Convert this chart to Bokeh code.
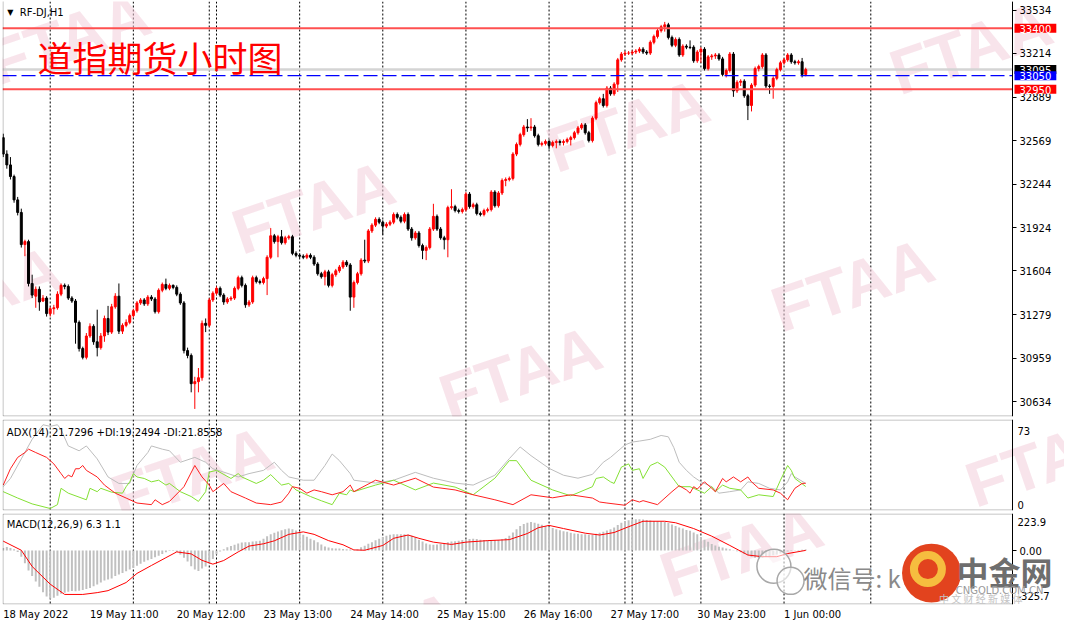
from bokeh.plotting import figure
from bokeh.layouts import column
from bokeh.models import (Range1d, FixedTicker, Span, Label, ColumnDataSource,
                          LinearAxis, BoxAnnotation)
from bokeh.embed import file_html
from bokeh.resources import INLINE

# ---------------- data ----------------
symbol = "RF-DJ,H1"
title_cn = "道指期货小时图"

opens = [
32591, 32469, 32389, 32303, 32130, 32037, 31799, 31821, 31511, 31417,
31468, 31381, 31403, 31288, 31324, 31331, 31432, 31497, 31489, 31403,
31381, 31223, 31029, 30964, 31122, 31194, 31079, 31036, 31122, 31252,
31151, 31338, 31417, 31158, 31201, 31223, 31273, 31309, 31367, 31389,
31360, 31410, 31396, 31302, 31461, 31504, 31475, 31497, 31482, 31432,
31367, 31014, 30978, 30769, 30784, 30813, 31216, 31201, 31389, 31439,
31475, 31425, 31374, 31396, 31403, 31475, 31554, 31497, 31353, 31374,
31554, 31525, 31518, 31547, 31705, 31864, 31821, 31857, 31813, 31849,
31857, 31734, 31720, 31713, 31705, 31720, 31705, 31655, 31583, 31561,
31597, 31497, 31576, 31605, 31633, 31669, 31648, 31410, 31518, 31583,
31684, 31677, 31900, 31943, 31986, 31965, 31936, 31950, 31965, 32022,
32001, 31972, 32022, 31914, 31849, 31885, 31792, 31756, 31777, 31914,
32008, 31914, 31849, 31835, 32073, 32080, 32051, 32044, 32058, 32173,
32080, 32094, 32029, 32022, 32051, 32058, 32188, 32087, 32181, 32274,
32281, 32289, 32469, 32541, 32613, 32670, 32663, 32670, 32605, 32541,
32548, 32562, 32533, 32555, 32562, 32555, 32562, 32577, 32591, 32627,
32663, 32685, 32627, 32569, 32735, 32850, 32879, 32829, 32958, 32915,
32987, 33167, 33210, 33217, 33217, 33225, 33232, 33246, 33225, 33217,
33297, 33340, 33383, 33412, 33426, 33333, 33275, 33318, 33203, 33268,
33261, 33261, 33160, 33225, 33246, 33102, 33189, 33196, 33203, 33174,
33059, 33088, 33210, 32937, 33001, 33009, 32901, 32829, 32980, 33102,
33117, 33203, 32973, 32970, 33030, 33095, 33145, 33167, 33203, 33153,
33145, 33153, 33059]

closes = [
32469, 32389, 32303, 32130, 32037, 31799, 31821, 31511, 31425, 31468,
31374, 31403, 31288, 31324, 31331, 31432, 31497, 31489, 31403, 31381,
31223, 31029, 30964, 31122, 31194, 31079, 31036, 31122, 31252, 31151,
31338, 31417, 31158, 31201, 31223, 31273, 31309, 31367, 31389, 31360,
31410, 31396, 31302, 31461, 31504, 31475, 31497, 31482, 31432, 31367,
31014, 30978, 30769, 30784, 30813, 31216, 31201, 31389, 31439, 31475,
31425, 31374, 31396, 31403, 31475, 31554, 31497, 31353, 31374, 31554,
31525, 31518, 31547, 31705, 31864, 31821, 31857, 31813, 31849, 31857,
31734, 31720, 31713, 31705, 31720, 31705, 31655, 31583, 31561, 31597,
31497, 31576, 31605, 31633, 31669, 31648, 31410, 31518, 31583, 31684,
31677, 31900, 31943, 31986, 31965, 31936, 31950, 31965, 32022, 32001,
31972, 32022, 31914, 31849, 31885, 31792, 31756, 31777, 31914, 32008,
31914, 31849, 31835, 32073, 32080, 32051, 32044, 32058, 32173, 32080,
32094, 32029, 32022, 32051, 32058, 32188, 32087, 32181, 32274, 32281,
32289, 32469, 32541, 32613, 32670, 32663, 32670, 32605, 32541, 32548,
32562, 32533, 32555, 32562, 32555, 32562, 32577, 32591, 32627, 32663,
32685, 32627, 32569, 32735, 32850, 32879, 32829, 32958, 32915, 32987,
33167, 33210, 33217, 33217, 33225, 33232, 33246, 33225, 33217, 33297,
33340, 33383, 33412, 33426, 33333, 33275, 33318, 33203, 33268, 33261,
33258, 33160, 33225, 33246, 33102, 33189, 33196, 33203, 33174, 33059,
33088, 33210, 32937, 33001, 33009, 32901, 32829, 32980, 33102, 33117,
33203, 32973, 32970, 33030, 33095, 33145, 33167, 33203, 33153, 33145,
33153, 33059, 33095]

highs = [
32620, 32497, 32447, 32317, 32152, 32065, 31835, 31835, 31576, 31489,
31489, 31425, 31417, 31338, 31353, 31453, 31511, 31511, 31504, 31417,
31396, 31237, 31043, 31144, 31216, 31209, 31317, 31144, 31273, 31345,
31360, 31439, 31511, 31216, 31245, 31288, 31324, 31381, 31403, 31403,
31425, 31425, 31410, 31475, 31518, 31547, 31511, 31504, 31497, 31446,
31381, 31036, 30993, 30820, 30885, 31237, 31252, 31403, 31453, 31489,
31489, 31439, 31410, 31417, 31489, 31569, 31569, 31511, 31389, 31569,
31569, 31540, 31561, 31720, 31921, 31878, 31871, 31907, 31864, 31871,
31871, 31749, 31734, 31727, 31734, 31734, 31720, 31669, 31597, 31612,
31612, 31590, 31619, 31648, 31684, 31684, 31662, 31533, 31597, 31698,
31835, 31914, 31957, 32001, 32001, 31979, 31965, 31979, 32037, 32037,
32015, 32037, 32037, 31929, 31900, 31900, 31806, 31792, 31929, 32101,
32022, 31929, 31864, 32087, 32209, 32094, 32065, 32073, 32188, 32188,
32109, 32109, 32044, 32065, 32073, 32202, 32202, 32195, 32289, 32296,
32303, 32483, 32555, 32627, 32685, 32728, 32735, 32685, 32620, 32562,
32577, 32577, 32569, 32577, 32577, 32577, 32591, 32605, 32641, 32677,
32699, 32699, 32641, 32749, 32865, 32893, 32915, 32973, 32973, 33001,
33181, 33225, 33232, 33232, 33239, 33246, 33261, 33261, 33239, 33311,
33354, 33397, 33426, 33448, 33441, 33347, 33333, 33333, 33282, 33282,
33311, 33275, 33239, 33261, 33261, 33203, 33210, 33217, 33217, 33189,
33102, 33225, 33225, 33016, 33023, 33023, 32915, 32994, 33117, 33131,
33217, 33217, 32987, 33045, 33109, 33160, 33181, 33217, 33217, 33167,
33167, 33181, 33109]

lows = [
32447, 32361, 32281, 32109, 32015, 31777, 31713, 31489, 31403, 31331,
31309, 31374, 31266, 31266, 31281, 31317, 31417, 31468, 31389, 31367,
31065, 31007, 30949, 30949, 31108, 31057, 30971, 31021, 31079, 31129,
31137, 31324, 31137, 31137, 31187, 31209, 31259, 31295, 31353, 31345,
31345, 31381, 31288, 31288, 31446, 31461, 31461, 31468, 31417, 31353,
30993, 30957, 30705, 30582, 30705, 30791, 31151, 31187, 31374, 31425,
31410, 31353, 31360, 31381, 31389, 31461, 31482, 31331, 31338, 31360,
31511, 31504, 31504, 31425, 31691, 31806, 31705, 31799, 31799, 31835,
31720, 31705, 31698, 31691, 31691, 31691, 31641, 31569, 31547, 31497,
31482, 31482, 31561, 31590, 31619, 31633, 31309, 31331, 31504, 31569,
31662, 31662, 31885, 31929, 31950, 31871, 31921, 31936, 31950, 31986,
31957, 31957, 31900, 31828, 31835, 31777, 31691, 31684, 31763, 31900,
31900, 31835, 31763, 31705, 32058, 32037, 32029, 32029, 32044, 32065,
32065, 32015, 32008, 32008, 32037, 32044, 32073, 32073, 32166, 32231,
32267, 32274, 32454, 32526, 32598, 32634, 32641, 32591, 32526, 32526,
32533, 32505, 32519, 32512, 32533, 32533, 32548, 32533, 32577, 32613,
32649, 32613, 32555, 32555, 32721, 32836, 32814, 32814, 32901, 32901,
32929, 33153, 33196, 33203, 33203, 33210, 33217, 33210, 33203, 33203,
33282, 33325, 33369, 33376, 33318, 33261, 33261, 33189, 33189, 33246,
33246, 33145, 33145, 33145, 33088, 33088, 33167, 33174, 33160, 33045,
33037, 33073, 32893, 32922, 32973, 32886, 32721, 32785, 32965, 33081,
33102, 32958, 32915, 32879, 33016, 33081, 33131, 33153, 33138, 33131,
33131, 33037, 33045]

x_tick_pos = [0, 24, 48, 72, 96, 120, 144, 168, 192, 216]
x_tick_labels = ["18 May 2022", "19 May 11:00", "20 May 12:00", "23 May 13:00",
                 "24 May 14:00", "25 May 15:00", "26 May 16:00", "27 May 17:00",
                 "30 May 23:00", "1 Jun 00:00"]
price_ticks = [33534, 33214, 32889, 32569, 32244, 31924, 31604, 31279, 30959, 30634]
day_separators = [13, 36, 57, 59, 82, 105, 128, 151, 172, 174, 193, 216, 240]
red_levels = [33400, 32950]
blue_level = 33050
bid_price = 33095

adx_header = "ADX(14) 21.7296 +DI:19.2494 -DI:21.8558"
adx_max, adx_min = 73, 0
adx_x = [0,2,5,8,11,13,15,16,18,21,23,26,29,32,35,37,40,41,44,46,49,53,56,58,61,65,68,72,75,77,
         79,83,86,89,91,93,96,97,103,108,114,119,125,130,136,140,143,146,151,155,159,163,166,168,
         172,174,176,179,182,184,185.5,187,189,191,193,196,198,201,204,206,209,212,215,217,218,219,222]
adx_v = [19.1,25.7,41.4,57.1,68.8,67.5,68.8,64.9,51.8,47.9,51.8,41.4,26.9,21.7,21.7,36.1,46.5,51.8,
         49.2,47.9,38.7,42.6,38.7,33.5,30.8,26.9,29.6,32.2,38.7,32.2,26.9,24.3,24.3,36.1,45.3,40,29.6,
         24.3,22,24.3,30.6,25.9,22,20.4,28.3,41.6,51,44,33.8,28.3,25.9,29,38.7,42.6,52.6,54.9,55.7,
         57.1,60.2,59.1,50.5,38.7,32.2,26.9,23,19.1,13.9,15.1,16.5,23,21.7,17.8,16.5,23,29.6,26.9,21.73]
pdi_x = [0,4,8,13,15,16,18,23,24,26,27,30,33,34,35,36,37,39,41,43,45,46,49,52,54,56,57,59,63,65,
         66,68,70,72,74,76,77,79,81,85,88,91,93,95,96,97,103,108,114,119,125,130,136,140,142,146,
         152,157,163,164,166,168,169,171,173,174,176,177,179,181,183,186,187,190,192,194,196,197,
         199,201,204,206,209,213,215,217,218,219,222]
pdi_v = [15.1,10,5.3,1.6,4.7,17.8,13.9,8.6,17.8,15.1,17.8,14.7,13.9,19.1,23,29.6,26.9,25.7,23,24.3,
         20.4,21.7,15.1,11.2,7.3,15.1,30.8,32.2,25.7,29.6,26.9,24.3,21.7,24.3,28.8,23,20.4,21.7,16.5,
         11.2,7.8,4.7,13.9,12.6,16.5,15.1,20.4,24.3,16.5,22,18.8,12.6,25.9,40,40,24.3,16.5,11.8,19.1,
         25.7,26.9,23,21.7,34.8,37.4,32.2,33.5,25.7,36.1,38.7,34.8,23,19.1,19.1,16.5,13.9,19.1,15.1,
         20.4,17.8,16.5,10,12.6,11.2,24.3,36.1,32.2,25.7,19.25]
mdi_x = [0,2,4,6,7,9,12,14,16,17,18,19,20,21,22,23,26,28,31,34,37,41,42,44,46,50,53,55,57,58,
         61,63,67,70,74,77,79,80,82,84,86,88,91,94,96,97,103,108,114,119,125,130,136,141,146,152,
         157,163,165,167,172,174,176,177,181,185,187,189,190,191,192,194,196,197,199,200,202,204,
         206,207,209,213,215,217,219,221,222]
mdi_v = [20.4,33.5,42.6,46.5,49.2,46.5,42.6,37.4,29.6,25.7,28.3,27,33.5,33.5,36.1,32.2,26.9,20.4,
         13.9,10,6,4.7,8.6,4.7,7.3,19.1,36.1,26.9,20.4,15.1,21.7,15.1,10,6,4.7,6.8,13.9,19.1,17.8,
         13.9,16.5,15.1,12.6,15.1,20.4,15.1,24.3,20.4,25.9,18.8,16.5,12.6,8.6,4.7,12.6,10.2,12.6,10,
         6.8,6,4.2,8.6,6.8,7.9,4.7,15.1,19.9,16.5,13.9,19.1,17.2,23,17.8,15.1,25.7,23,26.9,23,26.9,
         23,17.8,16.5,13.9,8.6,17.8,21.7,21.86]

macd_header = "MACD(12,26,9) 6.3 1.1"
macd_max, macd_min = 223.9, -325.7
macd_hist = [
16, 21, 16, 8, -8, -37, -76, -121, -154, -187,
-218, -252, -277, -291, -285, -273, -261, -254, -248, -244,
-246, -242, -238, -232, -226, -215, -205, -193, -181, -174,
-168, -154, -144, -135, -125, -115, -105, -92, -80, -68,
-59, -51, -41, -31, -21, -10, 4, 4, -8, -23,
-43, -66, -94, -115, -123, -109, -96, -76, -51, -23,
-6, 8, 20, 27, 35, 43, 49, 51, 51, 55,
57, 60, 72, 86, 99, 107, 115, 123, 129, 133,
129, 121, 109, 96, 84, 72, 62, 51, 37, 25,
18, 14, 12, 12, 10, 8, 6, 2, 8, 20,
29, 41, 51, 62, 72, 82, 90, 96, 98, 99,
99, 99, 96, 90, 80, 66, 55, 43, 37, 35,
37, 39, 43, 51, 55, 57, 60, 64, 66, 70,
72, 70, 66, 64, 62, 60, 62, 64, 68, 76,
90, 109, 129, 148, 160, 168, 172, 168, 162, 156,
148, 142, 137, 129, 123, 117, 113, 107, 103, 101,
99, 98, 96, 96, 101, 107, 113, 121, 129, 140,
154, 168, 177, 183, 187, 189, 189, 187, 185, 181,
179, 177, 176, 172, 166, 158, 148, 140, 133, 125,
119, 109, 98, 80, 66, 53, 39, 31, 23, 18,
12, 8, 2, -4, -10, -20, -29, -37, -43, -45,
-43, -39, -35, -29, -23, -18, -12, -6, -2, 2,
4, 5, 6.3]
sig_x = [0,5,8,13,17,22,26,29,34,37,41,45,48,52,55,58,61,65,68,72,75,79,83,86,90,94,97,100,105,108,
         112,115,119,124,128,134,140,145,148,151,155,161,165,169,173,177,183,186,191,196,201,206,
         210,214,217,222]
sig_v = [57,2,-96,-203,-265,-265,-254,-242,-193,-138,-90,-43,-8,-20,-59,-82,-60,-8,27,41,59,98,113,
         98,60,35,4,2,31,74,94,74,51,37,51,60,66,103,138,152,133,105,94,109,144,177,177,168,133,87,
         31,-27,-37,-37,-18,1.1]

# ---------------- layout constants ----------------
W = 1064
BL = 2                         # left border
FW = 1010                      # width of the plotting area (up to the price-scale line)
FWF = W - BL                   # full frame width (price scale area lives inside the frame)
H1, H2, H3 = 418, 94, 110
FH1, FH2, FH3 = H1 - 3, H2 - 3, H3 - 19
FONT = "DejaVu Sans"
X0, X_END = -0.2, 279.2
PXB = FW / (X_END - X0)        # px per bar
X_FULL = X0 + FWF / PXB
x_range = Range1d(X0, X_FULL)
P_LO, P_HI = 30526, 33599

WM_COLOR = "#f3cddb"
WM_ALPHA = 0.55
WM_ANGLE = 0.33


def fx(i):
    return (i - X0) * PXB


def fy(v, lo, hi, fh):
    return (v - lo) / (hi - lo) * fh


N = min(len(opens), len(closes), len(highs), len(lows))
src = ColumnDataSource(dict(
    x=list(range(N)), h=highs[:N], l=lows[:N],
    top=[max(o, c) for o, c in zip(opens[:N], closes[:N])],
    bot=[min(o, c) for o, c in zip(opens[:N], closes[:N])],
    color=["#ff0000" if c >= o else "#000000" for o, c in zip(opens[:N], closes[:N])],
))


def make_fig(height, lo, hi, fh, bottom_border, with_xaxis, ticks, overrides, top_line=True):
    p = figure(width=W, height=height, x_range=x_range, y_range=Range1d(lo, hi),
               output_backend="svg", toolbar_location=None,
               x_axis_location="below" if with_xaxis else None,
               y_axis_location=None,
               min_border_left=BL, min_border_right=0, min_border_top=1,
               min_border_bottom=bottom_border)
    p.outline_line_color = None
    p.grid.visible = False
    p.background_fill_color = "white"
    p.border_fill_color = "white"
    # price scale drawn at the right edge of the plotting area
    ax = LinearAxis(fixed_location=X_END, ticker=FixedTicker(ticks=ticks),
                    major_label_overrides=overrides)
    ax.axis_line_color = "black"
    ax.major_tick_out = 4
    ax.major_tick_in = 0
    ax.minor_tick_line_color = None
    ax.major_label_text_font = FONT
    ax.major_label_text_font_size = "10px"
    ax.major_label_text_color = "black"
    ax.major_label_standoff = 3
    p.add_layout(ax, "right")
    for loc in day_separators:
        p.add_layout(Span(location=loc, dimension="height", line_color="black",
                          line_dash="2 2", line_width=1, level="underlay"))
    # panel border (left, top, bottom, right = price scale line)
    dx = 0.5 / PXB
    dy = 0.5 / fh * (hi - lo)
    top = hi - dy if top_line else hi + 6 * dy
    p.add_layout(BoxAnnotation(left=X0 + dx, right=X_END, bottom=lo + dy, top=top,
                               fill_color=None, fill_alpha=0, line_color="black",
                               line_width=1))
    return p


def watermark(p, sxp, syp):
    p.add_layout(Label(x=sxp, y=syp, x_units="screen", y_units="screen", text="FTAA",
                       text_font="Liberation Sans", text_font_style="bold",
                       text_font_size="64px", text_color=WM_COLOR, text_alpha=WM_ALPHA,
                       angle=WM_ANGLE, text_align="center", text_baseline="middle",
                       level="underlay"))


def stext(p, sxp, syp, text, color="black", size="10px", align="left", font=FONT,
          style="normal", bg=None, pad=None):
    kw = dict(x=sxp, y=syp, x_units="screen", y_units="screen", text=text, text_font=font,
              text_font_size=size, text_font_style=style, text_color=color,
              text_align=align, text_baseline="middle")
    if bg is not None:
        kw["background_fill_color"] = bg
    if pad is not None:
        kw["padding"] = pad
    p.add_layout(Label(**kw))


# reference pixel -> frame pixel (reference: bar i sits at x = 3.3 + 3.667 i)
def rx(x_ref):
    return fx((x_ref - 3.3) / 3.667)


# ---- main price panel ----
p1 = make_fig(H1, P_LO, P_HI, FH1, 2, False, price_ticks, {t: str(t) for t in price_ticks},
              top_line=False)


def ry1(y_ref):
    return fy(33599 - 7.196 * y_ref, P_LO, P_HI, FH1)


for wxr, wyr in [(318, 212), (528, 382), (637, 128), (865, 292), (-20, 300), (70, 38), (985, 48)]:
    watermark(p1, rx(wxr), ry1(wyr))

p1.segment(x0=[X0], x1=[X_END], y0=[bid_price], y1=[bid_price],
           line_color="#d4d4d4", line_width=2.5)

p1.segment(x0="x", y0="h", x1="x", y1="l", line_color="color", line_width=1, source=src)
p1.vbar(x="x", width=0.55, top="top", bottom="bot", fill_color="color",
        line_color="color", line_width=1, source=src)

p1.segment(x0=[X0] * len(red_levels), x1=[X_END] * len(red_levels), y0=red_levels,
           y1=red_levels, line_color="#ff5050", line_width=2)
p1.segment(x0=[X0], x1=[X_END], y0=[blue_level], y1=[blue_level],
           line_color="#0000ff", line_dash="14 5", line_width=1.2)

stext(p1, rx(10.5), ry1(11), "▼", size="8px", align="center")
stext(p1, rx(20), ry1(11), symbol)
stext(p1, rx(38), ry1(57), title_cn, color="#ff0000", size="35px", font="Noto Sans CJK SC")

for val, bg in [(bid_price, "#000000"), (blue_level, "#0000ff"),
                (red_levels[0], "#ff0000"), (red_levels[1], "#ff0000")]:
    stext(p1, FW + 2, fy(val, P_LO, P_HI, FH1), str(val), color="white", bg=bg,
          pad=dict(left=5, right=5, top=1, bottom=0))

# ---- ADX panel ----
p2 = make_fig(H2, adx_min, adx_max, FH2, 2, False, [], {})


def ry2(y_ref):
    return fy((521 - y_ref) / 1.274, adx_min, adx_max, FH2)


watermark(p2, rx(195), ry2(483))
watermark(p2, rx(1062), ry2(470))
p2.line(adx_x, adx_v, line_color="#bdbdbd", line_width=1)
p2.line(pdi_x, pdi_v, line_color="#84e034", line_width=1)
p2.line(mdi_x, mdi_v, line_color="#ff2020", line_width=1)
stext(p2, rx(7), ry2(441), adx_header)
stext(p2, FW + 5, ry2(440), str(adx_max))
stext(p2, FW + 5, ry2(515), str(adx_min))

# ---- MACD panel ----
p3 = make_fig(H3, macd_min, macd_max, FH3, 18, True, [0], {0: "0.00"})

# x labels start at their bar (MT4 style): shift the label centre by half its width
CW = {"0": .636, "1": .636, "2": .636, "3": .636, "4": .636, "5": .636, "6": .636,
      "7": .636, "8": .636, "9": .636, " ": .318, ":": .337, "M": .863, "a": .613,
      "y": .592, "J": .295, "u": .634, "n": .634}
label_ticks = [pos + sum(CW.get(ch, .6) for ch in lab) * 10 / 2 / PXB
               for pos, lab in zip(x_tick_pos, x_tick_labels)]
xa = p3.xaxis[0]
xa.ticker = FixedTicker(ticks=label_ticks)
xa.major_label_overrides = dict(zip(label_ticks, x_tick_labels))
xa.major_label_text_font = FONT
xa.major_label_text_font_size = "10px"
xa.major_label_text_color = "black"
xa.major_tick_out = 0
xa.major_tick_in = 0
xa.minor_tick_line_color = None
xa.axis_line_color = None
xa.major_label_standoff = 4


def ry3(y_ref):
    return fy((562 - y_ref) * 5.91, macd_min, macd_max, FH3)


watermark(p3, rx(752), ry3(562))
watermark(p3, rx(385), ry3(652))
p3.vbar(x=list(range(len(macd_hist))), width=0.55, top=macd_hist, bottom=0,
        fill_color="#c0c0c0", line_color=None)
p3.line(sig_x, sig_v, line_color="#ff0000", line_width=1)
stext(p3, rx(7), ry3(535), macd_header)
stext(p3, FW + 5, ry3(533), str(macd_max))
stext(p3, FW + 5, ry3(608), str(macd_min))

# bottom-right media watermark (wechat / cngold)
p3.scatter(x=[213.2], y=[-95], size=34, marker="circle", fill_color="white",
           fill_alpha=0.6, line_color="#a8a8a8", line_width=1.5)
p3.scatter(x=[217.8], y=[-183], size=27, marker="circle", fill_color="white",
           fill_alpha=0.6, line_color="#a8a8a8", line_width=1.5)
stext(p3, rx(815), ry3(590), "微信号: k", color="#8a8a8a", size="24px", font="Noto Sans CJK SC")
p3.scatter(x=[256.8], y=[-136], size=59, marker="circle", fill_color="#e2431e", line_color=None)
p3.scatter(x=[255.8], y=[-112], size=28, marker="circle", fill_color=None,
           line_color="#f6bd3f", line_width=8)
stext(p3, rx(1019), ry3(583), "中金网", color="#6e6e6e", size="32px", align="center",
      font="Noto Sans CJK SC", style="bold")
stext(p3, rx(1014), ry3(603), "CNGOLD.COM.CN", color="#9a9a9a", size="10px", align="center")
stext(p3, rx(995), ry3(611), "中 文 财 经 新 媒 体", color="#c4c4c4", size="10px",
      align="center", font="Noto Sans CJK SC")

layout = column(p1, p2, p3, spacing=0)
open("out.html", "w").write(file_html(layout, INLINE, title="RF-DJ H1"))
